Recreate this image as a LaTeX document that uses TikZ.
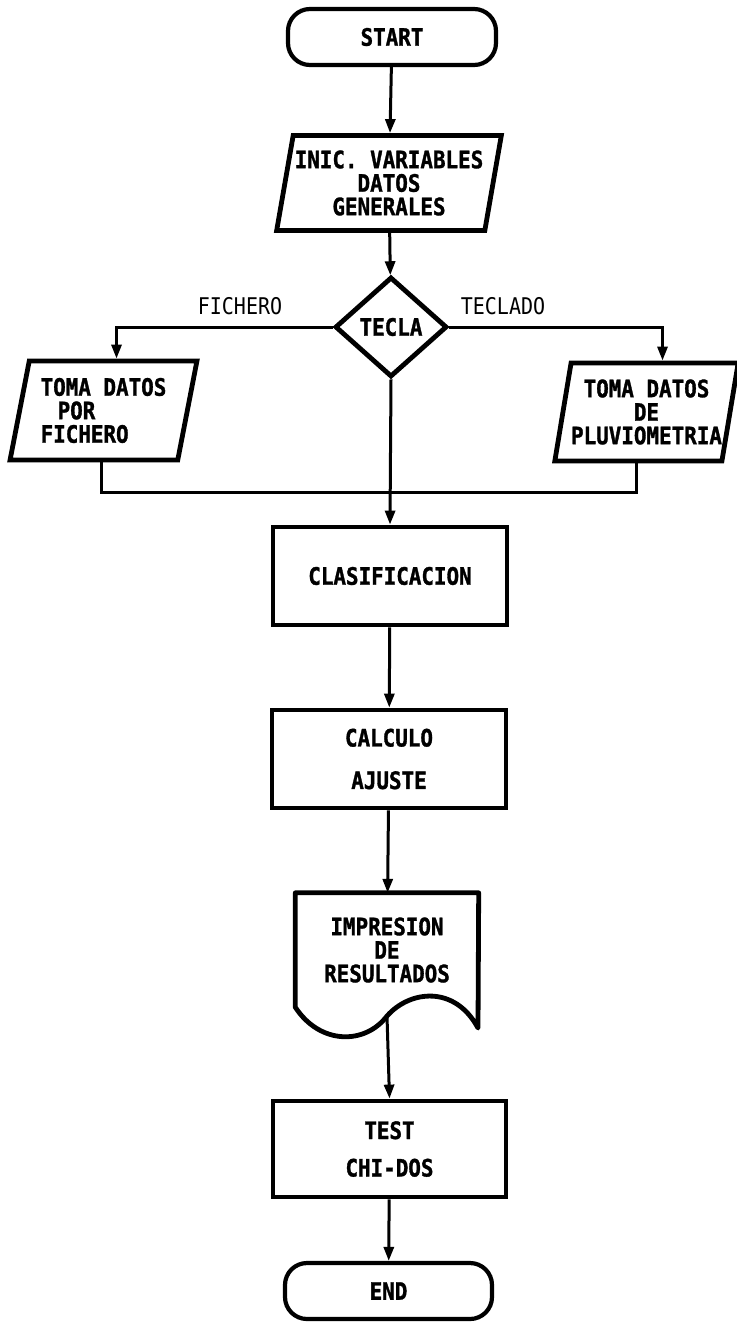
\documentclass[tikz,border=0pt]{standalone}
\usepackage{fontspec}
\usetikzlibrary{arrows.meta,positioning,shapes.geometric,calc}
\newfontfamily\flowfont[FakeStretch=0.87,BoldFeatures={FakeBold=1.3}]{DejaVu Sans Mono}
\newcommand{\flowtxt}{\flowfont\bfseries\fontsize{24}{23.5}\selectfont}
\newcommand{\labtxt}{\flowfont\fontsize{23}{18}\selectfont}

\begin{document}
\begin{tikzpicture}[x=1pt,y=-1pt,
    proc/.style={draw,line width=4.8pt,minimum width=234pt,minimum height=98pt,inner sep=0pt,font=\flowtxt,align=center},
    term/.style={draw,line width=4.2pt,rounded corners=22pt,minimum width=208pt,minimum height=56pt,inner sep=0pt,font=\flowtxt},
    iobox/.style={draw,trapezium,trapezium left angle=76,trapezium right angle=104,trapezium stretches=true,
      line width=4.8pt,inner sep=0pt,font=\flowtxt,align=center},
    decide/.style={draw,diamond,line width=4.8pt,minimum width=112pt,minimum height=100pt,inner sep=0pt,font=\flowtxt},
    arr/.style={line width=3pt,-{Triangle[length=14pt,width=10pt]}},
    wire/.style={line width=3pt},
    branch/.style={font=\labtxt}]
  \useasboundingbox (0,0) rectangle (736,1322);

  \node[term] (start) at (392,37) {START};
  \node[iobox,minimum width=225pt,minimum height=95pt] (inic) at (389,183)
    {INIC. VARIABLES\\DATOS\\GENERALES};
  \node[decide] (tecla) at (391,327) {TECLA};
  \node[iobox,minimum width=187pt,minimum height=99pt,align=left] (tomaf) at (103.5,410.5)
    {TOMA DATOS\\\hspace*{17pt}POR\\FICHERO};
  \node[iobox,minimum width=173pt,minimum height=98pt] (tomat) at (646.5,412)
    {TOMA DATOS\\DE\\PLUVIOMETRIA};
  \node[branch] (lfich) at (240,306) {FICHERO};
  \node[branch] (ltecl) at (503,306) {TECLADO};
  \coordinate (merge) at (390,492);
  \node[proc] (clas) at (390,576) {CLASIFICACION};
  \node[proc] (calc) at (389,759) {CALCULO\\[19pt]AJUSTE};
  \node[minimum width=183pt,minimum height=114pt,inner sep=0pt,font=\flowtxt,align=center] (impr) at (387,950)
    {IMPRESION\\DE\\RESULTADOS};
  \coordinate (improut) at (387,1016);
  \node[proc,minimum width=233pt,minimum height=96pt] (test) at (389.5,1149) {TEST\\[14pt]CHI-DOS};
  \node[term,minimum width=207pt] (end) at (388.5,1291) {END};

  % document outline
  \draw[line width=4.8pt,line join=round] (impr.south west) -- (impr.north west) -- (impr.north east)
    -- (478,1028) .. controls (455,985) and (410,990) .. (improut)
    .. controls (365,1045) and (320,1045) .. (impr.south west) -- cycle;

  \foreach \a/\b in {start/inic,inic/tecla,clas/calc,calc/impr,test/end}
    \draw[arr] (\a) -- (\b);
  \draw[arr] (tecla.west) -| ([xshift=13pt]tomaf.north);
  \draw[arr] (tecla.east) -| ([xshift=16pt]tomat.north);
  \draw[wire] ([xshift=-2pt]tomaf.south) |- (merge) -| ([xshift=-10pt]tomat.south);
  \draw[arr] (tecla.south) -- (clas.north);
  \draw[arr] (improut) -- (test.north);
\end{tikzpicture}
\end{document}
